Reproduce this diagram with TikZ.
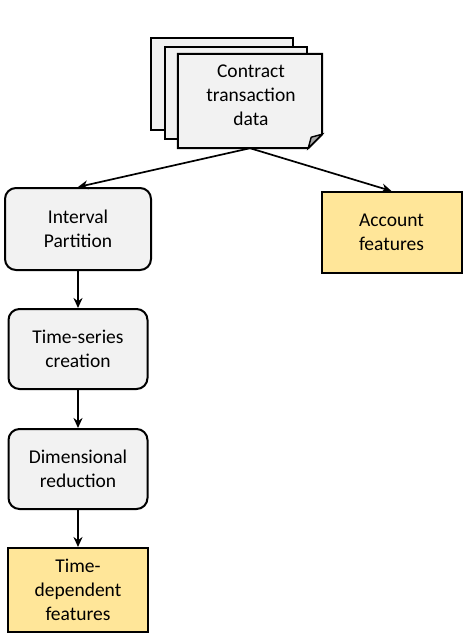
\documentclass[tikz,border=0pt]{standalone}
\usepackage{fontspec}
\setmainfont{Carlito}
\usetikzlibrary{arrows.meta,positioning}
\definecolor{stepgrey}{HTML}{F2F2F2}
\definecolor{foldgrey}{HTML}{A6A6A6}
\definecolor{featyellow}{HTML}{FFE699}

\begin{document}
\begin{tikzpicture}[x=1pt, y=-1pt,
  proc/.style={draw, line width=2pt, rounded corners=11pt, fill=stepgrey,
               minimum width=139pt, minimum height=80pt, align=center,
               font=\fontsize{19.5}{24}\selectfont},
  feat/.style={draw, line width=2pt, fill=featyellow, minimum width=140pt,
               minimum height=81pt, align=center, font=\fontsize{19.5}{24}\selectfont},
  page/.style={draw, line width=2pt, fill=stepgrey, minimum width=142pt,
               minimum height=92pt},
  arr/.style={-{Stealth[length=10pt, width=9pt]}, line width=1.7pt}
]
  \useasboundingbox (0,0) rectangle (471,638);

  % stack of contract pages
  \node[page] (back) at (222,84) {};
  \node[page] (mid) at (236,92.5) {};
  \node[minimum width=144pt, minimum height=94pt, inner sep=0pt] (doc) at (250,101) {};
  \draw[line width=2pt, fill=stepgrey] (doc.north west) -- (doc.north east)
    -- ([yshift=14pt]doc.south east) -- ([xshift=-14pt]doc.south east)
    -- (doc.south west) -- cycle;
  \draw[line width=1.4pt, fill=foldgrey] ([yshift=14pt]doc.south east)
    -- ([xshift=-14pt]doc.south east) -- ([xshift=-11pt, yshift=11pt]doc.south east) -- cycle;
  \node[align=center, font=\fontsize{19.5}{24}\selectfont] (doctext) at (251,95) {Contract\\transaction\\data};

  % left column
  \node[proc, minimum width=146pt, minimum height=82pt] (ip) at (78,229) {Interval\\Partition};
  \node[proc, below=37pt of ip] (ts) {Time-series\\creation};
  \node[proc, below=38pt of ts] (dr) {Dimensional\\reduction};
  \node[feat, minimum height=84pt, below=37pt of dr] (td) {Time-\\dependent\\features};

  % right
  \node[feat] (acc) at (391.5,232.5) {Account\\features};

  \draw[arr] (doc.south) -- (ip.north);
  \draw[arr] (doc.south) -- (acc.north);
  \draw[arr] (ip) -- (ts);
  \draw[arr] (ts) -- (dr);
  \draw[arr] (dr) -- (td);
\end{tikzpicture}
\end{document}
